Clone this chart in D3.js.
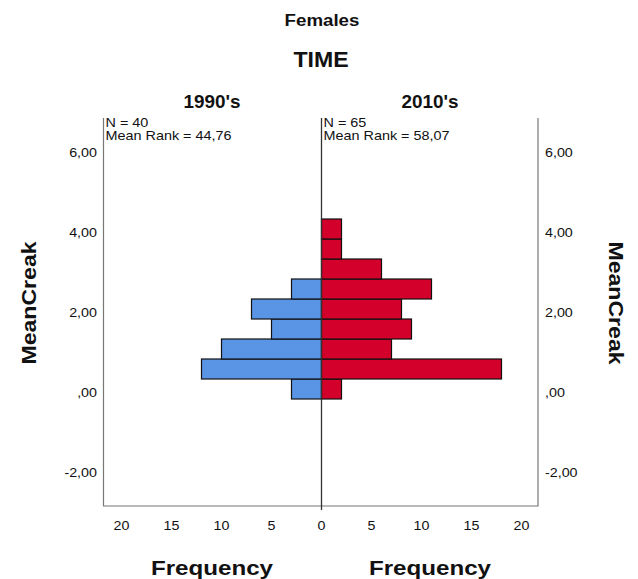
<!DOCTYPE html>
<html>
<head>
<meta charset="utf-8">
<script src="https://cdn.jsdelivr.net/npm/d3@7"></script>
<style>
  body { margin: 0; background: #fff; }
  text { font-family: "Liberation Sans", Arial, sans-serif; fill: #111; }
</style>
</head>
<body>
<div id="chart"></div>
<script>
// Bins of MeanCreak (lower edges), width 0.5
const binLower = [-0.175, 0.325, 0.825, 1.325, 1.825, 2.325, 2.825, 3.325, 3.825];
const binWidth = 0.5;
const freq1990 = [3, 12, 10, 5, 7, 3, 0, 0, 0];
const freq2010 = [2, 18, 7, 9, 8, 11, 6, 2, 2];
const groups = ["1990's", "2010's"];
const stats = [["N = 40", "Mean Rank = 44,76"], ["N = 65", "Mean Rank = 58,07"]];
const yTicks = [-2, 0, 2, 4, 6];
const xTicks = [0, 5, 10, 15, 20];

const width = 638, height = 579;
const plotTop = 118, plotBottom = 506, plotLeft = 103.5, plotRight = 538, mid = 321.5;

const svg = d3.select('#chart').append('svg')
    .attr('width', width)
    .attr('height', height);

const y = d3.scaleLinear().domain([-2.85, 6.85]).range([plotBottom, plotTop]);
const xL = d3.scaleLinear().domain([0, 21.8]).range([mid, plotLeft]);
const xR = d3.scaleLinear().domain([0, 21.65]).range([mid, plotRight]);

// stretched text helper (SPSS fonts render wide)
function label(txt, x, yy, size, bold, anchor, sx) {
    return svg.append('text')
        .attr('transform', `translate(${x},${yy}) scale(${sx || 1},1)`)
        .attr('text-anchor', anchor || 'middle')
        .style('font-size', size + 'px')
        .style('font-weight', bold ? 'bold' : 'normal')
        .text(txt);
}

// titles
label('Females', 322, 26, 17, true, 'middle', 1.1);
label('TIME', 321, 67, 22, true, 'middle', 1.05);
label(groups[0], 212, 108, 18, true, 'middle', 1.05);
label(groups[1], 430, 108, 18, true, 'middle', 1.05);

// bars
const rows = binLower.map((b, i) => ({ lo: b, f1: freq1990[i], f2: freq2010[i] }));

svg.selectAll('rect.l')
    .data(rows.filter(d => d.f1 > 0))
    .join('rect')
    .attr('class', 'l')
    .attr('x', d => xL(d.f1))
    .attr('y', d => y(d.lo + binWidth))
    .attr('width', d => xL(0) - xL(d.f1))
    .attr('height', d => y(d.lo) - y(d.lo + binWidth))
    .attr('fill', '#5a95e5')
    .attr('stroke', '#111')
    .attr('stroke-width', 1.2);

svg.selectAll('rect.r')
    .data(rows.filter(d => d.f2 > 0))
    .join('rect')
    .attr('class', 'r')
    .attr('x', xR(0))
    .attr('y', d => y(d.lo + binWidth))
    .attr('width', d => xR(d.f2) - xR(0))
    .attr('height', d => y(d.lo) - y(d.lo + binWidth))
    .attr('fill', '#d3002b')
    .attr('stroke', '#111')
    .attr('stroke-width', 1.2);

// frame
const frame = svg.append('g').attr('stroke', '#777').attr('stroke-width', 1.2).attr('fill', 'none');
frame.append('path').attr('d', `M${plotLeft},${plotTop}V${plotBottom}H${plotRight}V${plotTop}`);
svg.append('line')
    .attr('x1', mid).attr('x2', mid).attr('y1', plotTop).attr('y2', plotBottom + 4)
    .attr('stroke', '#333').attr('stroke-width', 1.3);

// group stats
stats.forEach((s, i) => {
    const x0 = i === 0 ? plotLeft + 2 : mid + 2;
    s.forEach((t, j) => label(t, x0, 127 + j * 13, 12, false, 'start', 1.2));
});

// y axes
const fmtY = v => v === 0 ? ',00' : d3.format('.2f')(v).replace('.', ',').replace('\u2212', '-');
yTicks.forEach(v => {
    label(fmtY(v), 97, y(v) + 5, 13, false, 'end', 1.1);
    label(fmtY(v), 545, y(v) + 5, 13, false, 'start', 1.1);
});

// x axes
xTicks.forEach(v => {
    label(String(v), xL(v), 530, 13, false, 'middle', 1.1);
    if (v > 0) label(String(v), xR(v), 530, 13, false, 'middle', 1.1);
});

// axis titles
label('Frequency', 212, 575, 21, true, 'middle', 1.15);
label('Frequency', 430, 575, 21, true, 'middle', 1.15);

svg.append('text')
    .attr('transform', 'translate(36,303) rotate(-90) scale(1.1,1)')
    .attr('text-anchor', 'middle')
    .style('font-size', '21px').style('font-weight', 'bold')
    .text('MeanCreak');
svg.append('text')
    .attr('transform', 'translate(609,303) rotate(90) scale(1.1,1)')
    .attr('text-anchor', 'middle')
    .style('font-size', '21px').style('font-weight', 'bold')
    .text('MeanCreak');
</script>
</body>
</html>
